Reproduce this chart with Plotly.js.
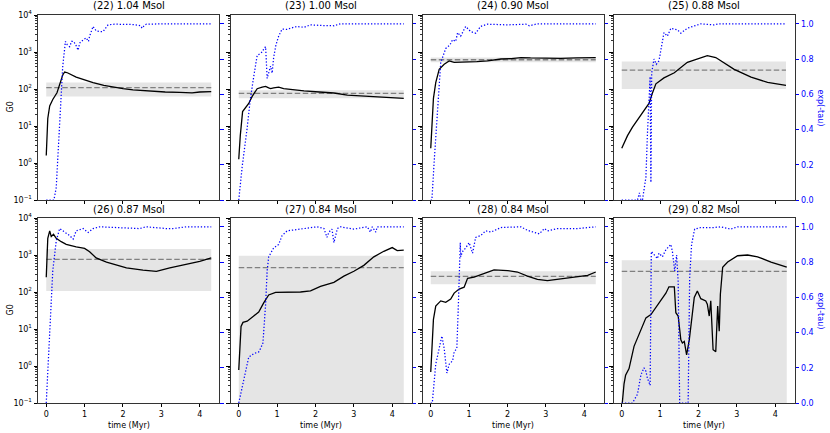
<!DOCTYPE html>
<html><head><meta charset="utf-8">
<script src="https://cdn.plot.ly/plotly-3.0.1.min.js"></script>
<style>html,body{margin:0;padding:0;background:#fff}#chart{width:830px;height:433px}</style>
</head><body><div id="chart"></div>
<script>
// ---- titles / tick labels ----
const panelTitles = ['(22) 1.04 Msol','(23) 1.00 Msol','(24) 0.90 Msol','(25) 0.88 Msol',
                     '(26) 0.87 Msol','(27) 0.84 Msol','(28) 0.84 Msol','(29) 0.82 Msol'];
const g0TickVals = [0.1, 1, 10, 100, 1000, 10000];
const g0TickText = ['10<sup>−1</sup>','10<sup>0</sup>','10<sup>1</sup>','10<sup>2</sup>','10<sup>3</sup>','10<sup>4</sup>'];
const tauTickVals = [0, 0.2, 0.4, 0.6, 0.8, 1.0];
const tauTickText = ['0.0','0.2','0.4','0.6','0.8','1.0'];
const timeTickVals = [0, 1, 2, 3, 4];

// ---- statistics (median and band of G0) ----
const g0Median = [109, 76, 617, 324, 759, 457, 263, 363];
const g0BandLo = [63, 56, 525, 100, 107, 0.001, 162, 0.001];
const g0BandHi = [151, 93, 708, 550, 1445, 955, 363, 724];

// ---- (22) ----
const time22 = [0,0.04,0.09,0.17,0.28,0.36,0.43,0.48,0.55,0.78,1.0,1.22,1.5,1.74,2.0,2.26,2.5,2.78,3.1,3.48,3.8,4.0,4.3];
const g0_22 = [1.6,16,35,52,79,141,240,288,275,209,174,148,126,112,102,95,91,87,83,81,79,83,85];
const tTau22 = [0,0.2,0.26,0.33,0.39,0.43,0.5,0.55,0.61,0.66,0.71,0.77,0.83,0.87,0.91,0.97,1.04,1.1,1.13,1.22,1.3,1.4,1.48,1.61,1.78,2.0,2.26,2.45,2.5,2.55,2.61,3.13,4.3];
const tau22 = [0,0,0.07,0.34,0.57,0.76,0.90,0.88,0.87,0.9,0.9,0.88,0.85,0.89,0.9,0.91,0.92,0.9,0.93,0.985,0.96,0.955,0.956,0.994,0.998,0.997,0.996,0.99,0.975,0.99,0.998,1.0,1.0];
// ---- (23) ----
const time23 = [0,0.04,0.1,0.17,0.26,0.35,0.48,0.61,0.7,0.78,0.83,0.91,1.04,1.17,1.4,1.7,2.1,2.48,2.83,3.1,3.43,3.8,4.04,4.3];
const g0_23 = [1.26,5.5,24.5,31.6,40.7,63,102,112,117,107,102,107,112,102,95,89,83,78,68,66,63,60,57.5,56];
const tTau23 = [0,0.09,0.22,0.3,0.39,0.48,0.55,0.61,0.66,0.7,0.74,0.78,0.83,0.87,0.91,0.97,1.04,1.13,1.25,1.35,1.52,1.7,1.87,2.2,2.48,2.65,3.0,4.3];
const tau23 = [0,0.19,0.41,0.57,0.70,0.82,0.83,0.84,0.86,0.87,0.69,0.72,0.76,0.72,0.81,0.88,0.93,0.97,0.968,0.975,0.985,0.98,0.994,0.99,0.989,1.0,1.0,1.0];
// ---- (24) ----
const time24 = [0,0.03,0.07,0.13,0.22,0.35,0.48,0.61,0.8,0.96,1.2,1.48,1.83,2.1,2.35,2.6,2.96,3.39,3.8,4.3];
const g0_24 = [2.5,12.9,56,148,339,468,575,525,525,537,550,575,646,661,708,692,676,676,692,708];
const tTau24 = [0,0.03,0.09,0.17,0.26,0.39,0.5,0.57,0.65,0.7,0.78,0.85,0.91,1.04,1.17,1.3,1.48,2.0,2.48,2.57,2.78,4.3];
const tau24 = [0,0,0.22,0.51,0.78,0.86,0.88,0.91,0.9,0.95,0.93,0.96,0.985,0.956,0.947,0.985,0.998,0.994,0.998,0.989,1.0,1.0];
// ---- (25) ----
const time25 = [0,0.15,0.28,0.5,0.71,0.8,0.89,1.1,1.37,1.71,2.06,2.23,2.45,2.7,2.93,3.37,3.8,4.28];
const g0_25 = [2.5,5.5,9.3,19.5,40.7,77.6,138,200,275,525,708,794,708,479,339,209,151,126];
const tTau25 = [0,0.41,0.46,0.5,0.54,0.63,0.67,0.71,0.74,0.76,0.78,0.84,0.9,0.97,1.02,1.1,1.19,1.28,1.45,1.54,1.71,2.06,2.41,2.54,4.28];
const tau25 = [0,0,0.04,0,0,0.13,0.38,0.57,0.7,0.10,0.72,0.80,0.77,0.79,0.85,0.95,0.93,0.975,0.966,0.947,0.975,1.0,0.994,1.0,1.0];
// ---- (26) ----
const time26 = [0,0.04,0.09,0.13,0.19,0.26,0.39,0.52,0.78,1.0,1.13,1.3,1.57,1.83,2.09,2.52,2.87,3.22,3.65,4.0,4.3];
const g0_26 = [251,2818,4467,3162,3631,2818,2291,1950,1660,1514,1230,832,646,525,447,389,363,447,550,676,832];
const tTau26 = [0,0.04,0.09,0.17,0.26,0.35,0.48,0.61,0.7,0.78,0.96,1.09,1.22,1.39,2.43,2.6,3.13,3.3,3.65,4.3];
const tau26 = [0,0.18,0.46,0.75,0.92,0.99,0.97,0.95,0.93,0.977,0.99,0.968,0.99,1.0,0.99,1.0,0.99,0.99,1.0,1.0];
// ---- (27) ----
const time27 = [0,0.03,0.06,0.11,0.22,0.39,0.52,0.65,0.78,0.96,1.26,1.61,1.87,2.13,2.48,2.74,3.0,3.26,3.52,3.78,4.0,4.13,4.3];
const g0_27 = [0.78,5.1,11.7,15.1,16.2,22.4,28.8,51,83,98,100,100,107,141,182,269,363,525,891,1259,1585,1318,1349];
const tTau27 = [0,0.13,0.26,0.39,0.52,0.57,0.63,0.7,0.74,0.78,0.91,1.04,1.13,1.26,1.61,2.04,2.22,2.3,2.35,2.43,2.48,2.57,2.65,3.0,3.35,3.43,3.48,3.57,3.61,4.3];
const tau27 = [0,0.14,0.26,0.28,0.29,0.31,0.34,0.56,0.75,0.83,0.88,0.90,0.95,0.977,0.987,1.0,0.99,0.94,0.97,0.987,0.91,0.99,1.0,0.987,1.0,0.97,1.0,0.97,1.0,1.0];
// ---- (28) ----
const time28 = [0,0.03,0.07,0.13,0.26,0.39,0.52,0.61,0.74,0.87,0.96,1.13,1.39,1.65,2.0,2.26,2.52,2.78,3.04,3.39,3.74,4.09,4.3];
const g0_28 = [0.69,3.4,18.2,41.7,57.5,52.5,64.6,93.3,120,135,234,251,309,398,380,347,269,219,204,224,251,282,347];
const tTau28 = [0,0.04,0.13,0.22,0.29,0.35,0.42,0.48,0.57,0.61,0.68,0.72,0.77,0.78,0.83,0.91,1.0,1.09,1.17,1.3,1.43,1.57,1.83,2.35,2.52,2.83,2.96,3.04,3.3,3.83,4.3];
const tau28 = [0,0,0.22,0.31,0.38,0.31,0.17,0.22,0.24,0.29,0.31,0.56,0.91,0.83,0.86,0.88,0.91,0.85,0.94,0.95,0.977,0.97,0.996,1.0,0.98,0.96,0.99,0.977,0.99,0.99,1.0];
// ---- (29) ----
const time29 = [0,0.06,0.1,0.19,0.32,0.5,0.63,0.76,0.89,1.02,1.15,1.23,1.37,1.41,1.47,1.54,1.58,1.63,1.69,1.76,1.82,1.89,1.97,2.06,2.19,2.23,2.28,2.32,2.38,2.45,2.5,2.54,2.57,2.63,2.76,3.02,3.28,3.54,3.89,4.3];
const g0_29 = [0.07,0.33,0.56,0.85,3.4,9.8,20,24.5,38,63,93,138,138,27.5,22.4,5.1,4.2,4.6,2.0,5.1,18.2,71,107,66,57.5,46.8,22.4,57.5,2.75,2.45,41.7,8.7,87,468,646,955,1000,891,646,468];
const tTau29 = [0,0.28,0.41,0.45,0.5,0.58,0.63,0.67,0.74,0.77,0.84,0.93,0.97,1.06,1.15,1.28,1.32,1.38,1.43,1.47,1.51,1.73,1.77,1.82,1.9,2.06,2.41,2.58,2.84,3.02,4.3];
const tau29 = [0,0,0.05,0.10,0.16,0.20,0.18,0.14,0.10,0.86,0.84,0.82,0.85,0.83,0.87,0.90,0.86,0.75,0.84,0.69,0,0,0.71,0.90,0.987,0.996,0.996,1.0,0.987,1.0,1.0];

const panels = [
  [time22,g0_22,tTau22,tau22],[time23,g0_23,tTau23,tau23],[time24,g0_24,tTau24,tau24],[time25,g0_25,tTau25,tau25],
  [time26,g0_26,tTau26,tau26],[time27,g0_27,tTau27,tau27],[time28,g0_28,tTau28,tau28],[time29,g0_29,tTau29,tau29]
];

// ---- layout geometry (pixels) ----
const W = 830, H = 433;
const colLeft = [38, 230.5, 422.5, 613.5];
const panelW = 181.5;
const rowTop = [15, 218];
const panelH = 185;
const FONT = 'DejaVu Sans, Liberation Sans, sans-serif';

const minorVals = [];
for (let k = -1; k <= 3; k++) for (let m = 2; m <= 9; m++) minorVals.push(m * Math.pow(10, k));

const data = [];
const layout = {
  width: W, height: H, margin: {l:0, r:0, t:0, b:0},
  paper_bgcolor: '#fff', plot_bgcolor: '#fff',
  showlegend: false, font: {family: FONT, size: 8, color: '#000'},
  annotations: []
};

for (let i = 0; i < 8; i++) {
  const row = Math.floor(i / 4), col = i % 4;
  const [tg, g, tt, e] = panels[i];
  const xn = i === 0 ? '' : String(i + 1);
  const yb = 2 * i + 1, yg = 2 * i + 2, yt = 17 + i;
  const xref = 'x' + xn, ybref = yb === 1 ? 'y' : 'y' + yb, ygref = 'y' + yg, ytref = 'y' + yt;
  const x0 = colLeft[col], y0 = rowTop[row];
  const xd = [x0 / W, (x0 + panelW) / W];
  const yd = [1 - (y0 + panelH) / H, 1 - y0 / H];

  const tmin = Math.min(...tg), tmax = Math.max(...tg);
  // band (base log axis)
  data.push({x: [tmin, tmax, tmax, tmin, tmin], y: [g0BandLo[i], g0BandLo[i], g0BandHi[i], g0BandHi[i], g0BandLo[i]],
    xaxis: xref, yaxis: ybref, mode: 'lines', fill: 'toself', fillcolor: '#e5e5e5',
    line: {width: 0, color: 'rgba(0,0,0,0)'}, hoverinfo: 'skip'});
  // median (base log axis)
  data.push({x: [tmin, tmax], y: [g0Median[i], g0Median[i]], xaxis: xref, yaxis: ybref, mode: 'lines',
    line: {color: '#808080', width: 1.3, dash: '5.5px,2.5px'}});
  // G0 (overlay log axis carrying major ticks)
  data.push({x: tg, y: g, xaxis: xref, yaxis: ygref, mode: 'lines', line: {color: '#000', width: 1.3}});
  // exp(-tau) (right axis)
  data.push({x: tt, y: e, xaxis: xref, yaxis: ytref, mode: 'lines',
    line: {color: '#0000ff', width: 1.25, dash: '1.3px,1.9px'}});

  layout['xaxis' + xn] = {
    domain: xd, anchor: ybref, range: [-0.215, 4.515],
    tickmode: 'array', tickvals: timeTickVals, ticks: 'outside', ticklen: 3.5, tickwidth: 1, tickcolor: '#000',
    showticklabels: row === 1, tickfont: {size: 8, family: FONT},
    showline: true, linecolor: '#000', linewidth: 0.8, mirror: true, showgrid: false, zeroline: false
  };
  // base axis: minor ticks only
  layout['yaxis' + (yb === 1 ? '' : yb)] = {
    domain: yd, anchor: xref, type: 'log', range: [-1, 4],
    tickmode: 'array', tickvals: minorVals, ticks: 'outside', ticklen: 2, tickwidth: 0.8, tickcolor: '#000',
    showticklabels: false, showline: true, linecolor: '#000', linewidth: 0.8, showgrid: false, zeroline: false
  };
  // overlay log axis: major ticks + labels
  layout['yaxis' + yg] = {
    overlaying: ybref, anchor: xref, side: 'left', type: 'log', range: [-1, 4],
    tickmode: 'array', tickvals: g0TickVals, ticktext: g0TickText,
    ticks: 'outside', ticklen: 3.5, tickwidth: 1, tickcolor: '#000',
    showticklabels: col === 0, tickfont: {size: 8, family: FONT},
    showline: false, showgrid: false, zeroline: false
  };
  // right axis exp(-tau)
  layout['yaxis' + yt] = {
    overlaying: ybref, anchor: xref, side: 'right', range: [0, 1.05],
    tickmode: 'array', tickvals: tauTickVals, ticktext: tauTickText,
    ticks: 'outside', ticklen: 3.5, tickwidth: 1, tickcolor: '#0000ff',
    showticklabels: col === 3, tickfont: {size: 8, family: FONT, color: '#0000ff'},
    showline: true, linecolor: '#000', linewidth: 0.8, showgrid: false, zeroline: false
  };

  // subplot title
  layout.annotations.push({text: panelTitles[i], xref: 'paper', yref: 'paper',
    x: (x0 + panelW / 2) / W, y: 1 - (y0 - 1.5) / H, xanchor: 'center', yanchor: 'bottom',
    showarrow: false, font: {size: 10, family: FONT, color: '#000'}});
  if (row === 1) {
    layout.annotations.push({text: 'time (Myr)', xref: 'paper', yref: 'paper',
      x: (x0 + panelW / 2) / W, y: 1 - 425 / H, xanchor: 'center', yanchor: 'middle',
      showarrow: false, font: {size: 8, family: FONT, color: '#000'}});
  }
  if (col === 0) {
    layout.annotations.push({text: 'G0', xref: 'paper', yref: 'paper', textangle: -90,
      x: 10 / W, y: 1 - (y0 + panelH / 2) / H, xanchor: 'center', yanchor: 'middle',
      showarrow: false, font: {size: 8, family: FONT, color: '#000'}});
  }
  if (col === 3) {
    layout.annotations.push({text: 'exp(-tau)', xref: 'paper', yref: 'paper', textangle: 90,
      x: 820 / W, y: 1 - (y0 + panelH / 2) / H, xanchor: 'center', yanchor: 'middle',
      showarrow: false, font: {size: 8, family: FONT, color: '#0000ff'}});
  }
}

Plotly.newPlot('chart', data, layout, {staticPlot: true, displayModeBar: false});
</script>
</body></html>
